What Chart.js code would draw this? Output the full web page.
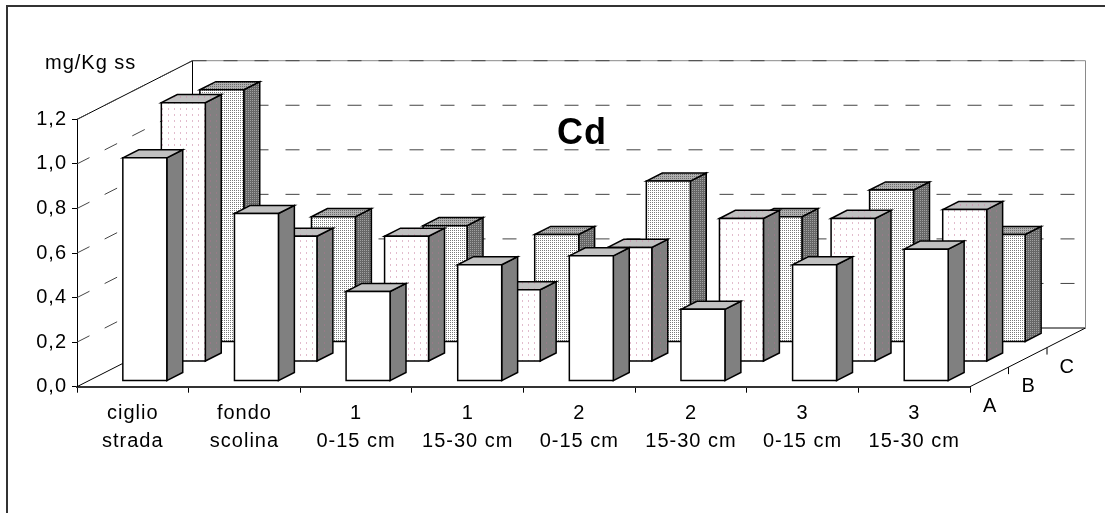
<!DOCTYPE html>
<html>
<head>
<meta charset="utf-8">
<script src="https://cdn.jsdelivr.net/npm/chart.js@4/dist/chart.umd.min.js"></script>
<style>
  html, body { margin: 0; padding: 0; background: #fff; }
  #wrap { width: 1105px; height: 513px; position: relative; }
</style>
</head>
<body>
<div id="wrap"><canvas id="cdChart"></canvas></div>
<script>
// --- Data ---
const CATEGORIES = [
  ['ciglio', 'strada'],
  ['fondo', 'scolina'],
  ['1', '0-15 cm'],
  ['1', '15-30 cm'],
  ['2', '0-15 cm'],
  ['2', '15-30 cm'],
  ['3', '0-15 cm'],
  ['3', '15-30 cm'],
];
const ROWS = ['A', 'B', 'C'];
const VALUES_A = [1.00, 0.75, 0.40, 0.52, 0.56, 0.32, 0.52, 0.59];
const VALUES_B = [1.16, 0.56, 0.56, 0.32, 0.51, 0.64, 0.64, 0.68];
const VALUES_C = [1.13, 0.56, 0.52, 0.48, 0.72, 0.56, 0.68, 0.48];
const Y_MIN = 0;
const Y_MAX = 1.2;
const Y_STEP = 0.2;
const TITLE = 'Cd';
const UNIT = 'mg/Kg ss';

// --- 3D look ---
const FONT = '"Liberation Sans", Arial, sans-serif';
const DEPTH_X = 115.5;   // full floor depth, pixels
const DEPTH_Y = -58.7;
const ROW_FRONT = 0.104; // where a bar starts inside its row (fraction of full depth)
const BAR_DEPTH = 0.138;
const BAR_WIDTH = 0.394; // of a category

function makePattern(bg, dot, size, dots) {
  const c = document.createElement('canvas');
  c.width = size[0];
  c.height = size[1];
  const g = c.getContext('2d');
  g.fillStyle = bg;
  g.fillRect(0, 0, c.width, c.height);
  g.fillStyle = dot;
  dots.forEach(([x, y, w, h]) => g.fillRect(x, y, w, h));
  return c;
}

const tiles = {
  bFront: makePattern('#ffffff', '#e2bccd', [6, 6], [[0, 0, 1, 2]]),
  bSide: makePattern('#808080', '#987a88', [6, 6], [[0, 0, 1, 2]]),
  bTop: makePattern('#c0c0c0', '#c8a0b4', [6, 6], [[0, 0, 1, 2]]),
  cFront: makePattern('#ffffff', '#7a7a7a', [2, 2], [[0, 0, 1, 1]]),
  cSide: makePattern('#666666', '#a0a0a0', [2, 2], [[0, 0, 1, 1]]),
  cTop: makePattern('#b0b0b0', '#6a6a6a', [2, 2], [[0, 0, 1, 1]]),
};

function rowStyles(ctx) {
  const p = (t) => ctx.createPattern(t, 'repeat');
  return [
    { front: '#ffffff', side: '#808080', top: '#c0c0c0' },
    { front: p(tiles.bFront), side: p(tiles.bSide), top: p(tiles.bTop) },
    { front: p(tiles.cFront), side: p(tiles.cSide), top: p(tiles.cTop) },
  ];
}

function fmt(v) {
  return (Math.round(v * 10) / 10).toFixed(1).replace('.', ',');
}

function poly(ctx, pts, fill) {
  ctx.beginPath();
  ctx.moveTo(pts[0][0], pts[0][1]);
  for (let i = 1; i < pts.length; i++) ctx.lineTo(pts[i][0], pts[i][1]);
  ctx.closePath();
  ctx.fillStyle = fill;
  ctx.fill();
  ctx.stroke();
}

function line(ctx, x1, y1, x2, y2) {
  ctx.beginPath();
  ctx.moveTo(x1, y1);
  ctx.lineTo(x2, y2);
  ctx.stroke();
}

const depthPlugin = {
  id: 'depth3d',
  beforeDraw(chart) {
    const ctx = chart.ctx;
    ctx.letterSpacing = '1px';
    ctx.save();
    ctx.strokeStyle = '#333';
    ctx.lineWidth = 2;
    ctx.beginPath();
    ctx.moveTo(7, chart.height);
    ctx.lineTo(7, 6);
    ctx.lineTo(chart.width, 6);
    ctx.stroke();
    ctx.restore();
  },
  beforeDatasetsDraw(chart) {
    const ctx = chart.ctx;
    const xs = chart.scales.x;
    const ys = chart.scales.y;
    const ca = chart.chartArea;
    const y0 = ys.getPixelForValue(0);
    const yTop = ys.getPixelForValue(Y_MAX);
    const bx = ca.left + DEPTH_X;

    ctx.save();
    ctx.letterSpacing = '1px';

    // walls and floor
    ctx.lineWidth = 1;
    ctx.strokeStyle = '#000';
    line(ctx, ca.left, yTop, bx, yTop + DEPTH_Y);
    line(ctx, bx, yTop + DEPTH_Y, bx, y0 + DEPTH_Y);
    line(ctx, ca.left, y0, bx, y0 + DEPTH_Y);
    line(ctx, bx, y0 + DEPTH_Y, ca.right + DEPTH_X, y0 + DEPTH_Y);
    line(ctx, ca.right, y0, ca.right + DEPTH_X, y0 + DEPTH_Y);
    ctx.strokeStyle = '#8a8a8a';
    line(ctx, bx, yTop + DEPTH_Y, ca.right + DEPTH_X, yTop + DEPTH_Y);
    line(ctx, ca.right + DEPTH_X, yTop + DEPTH_Y, ca.right + DEPTH_X, y0 + DEPTH_Y);

    // dashed grid on both walls
    ctx.strokeStyle = '#444';
    ctx.setLineDash([14, 17]);
    ys.ticks.forEach((t) => {
      if (t.value <= 0) return;
      const yf = ys.getPixelForValue(t.value);
      line(ctx, ca.left, yf, bx, yf + DEPTH_Y);
      line(ctx, bx, yf + DEPTH_Y, ca.right + DEPTH_X, yf + DEPTH_Y);
    });
    ctx.setLineDash([]);

    // depth axis ticks
    ctx.strokeStyle = '#000';
    for (let k = 1; k < ROWS.length; k++) {
      const px = ca.right + DEPTH_X * k / ROWS.length;
      const py = y0 + DEPTH_Y * k / ROWS.length;
      line(ctx, px, py, px, py + 7);
    }

    // bars, back row first
    const styles = rowStyles(ctx);
    const cw = xs.getPixelForValue(1) - xs.getPixelForValue(0);
    const ddx = DEPTH_X * BAR_DEPTH;
    const ddy = DEPTH_Y * BAR_DEPTH;
    ctx.lineWidth = 1.5;
    ctx.lineJoin = 'miter';
    ctx.strokeStyle = '#000';
    for (let k = chart.data.datasets.length - 1; k >= 0; k--) {
      const ds = chart.data.datasets[k];
      const f = ROW_FRONT + k / ROWS.length;
      const ox = DEPTH_X * f;
      const oy = DEPTH_Y * f;
      const st = styles[k];
      ds.data.forEach((v, i) => {
        const cx = xs.getPixelForValue(i) + ox;
        const xl = cx - cw * BAR_WIDTH / 2;
        const xr = cx + cw * BAR_WIDTH / 2;
        const yb = ys.getPixelForValue(0) + oy;
        const yt = ys.getPixelForValue(v) + oy;
        poly(ctx, [[xr, yb], [xr + ddx, yb + ddy], [xr + ddx, yt + ddy], [xr, yt]], st.side);
        poly(ctx, [[xl, yt], [xl + ddx, yt + ddy], [xr + ddx, yt + ddy], [xr, yt]], st.top);
        poly(ctx, [[xl, yt], [xr, yt], [xr, yb], [xl, yb]], st.front);
      });
    }

    // texts
    ctx.fillStyle = '#000';
    ctx.textBaseline = 'middle';
    ctx.font = '20px ' + FONT;
    ctx.textAlign = 'left';
    ctx.fillText(UNIT, 45, 63);
    ctx.textAlign = 'center';
    ROWS.forEach((r, k) => {
      const px = ca.right + DEPTH_X * (k + 0.5) / ROWS.length;
      const py = y0 + DEPTH_Y * (k + 0.5) / ROWS.length;
      ctx.fillText(r, px + 1, py + 29.5);
    });
    ctx.font = 'bold 36px ' + FONT;
    ctx.fillText(TITLE, 582, 134);

    ctx.restore();
    return false;
  },
};

const datasets = [VALUES_A, VALUES_B, VALUES_C].map((data, k) => ({
  label: ROWS[k],
  data,
  backgroundColor: 'rgba(0,0,0,0)',
  borderWidth: 0,
}));

new Chart(document.getElementById('cdChart'), {
  type: 'bar',
  data: { labels: CATEGORIES, datasets },
  options: {
    responsive: true,
    maintainAspectRatio: false,
    animation: false,
    events: [],
    layout: { padding: { left: 7, right: 135, top: 119.4, bottom: 0 } },
    plugins: { legend: { display: false }, tooltip: { enabled: false } },
    scales: {
      x: {
        offset: true,
        grid: { offset: true, drawOnChartArea: false, drawTicks: true, tickLength: 6, color: '#000' },
        border: { display: true, color: '#333', width: 2 },
        ticks: {
          color: '#000',
          padding: 6,
          maxRotation: 0,
          autoSkip: false,
          font: { family: FONT, size: 20, lineHeight: 1.43 },
        },
        afterFit: (s) => { s.height = 513 - 386.7; s.paddingLeft = 0; s.paddingRight = 0; },
      },
      y: {
        min: Y_MIN,
        max: Y_MAX,
        grid: { drawOnChartArea: false, drawTicks: true, tickLength: 5, color: '#000' },
        border: { display: true, color: '#000', width: 1 },
        ticks: {
          stepSize: Y_STEP,
          color: '#000',
          padding: 5,
          font: { family: FONT, size: 20 },
          callback: (v) => fmt(v),
        },
        afterFit: (s) => { s.width = 70; s.paddingTop = 0; s.paddingBottom = 0; },
      },
    },
  },
  plugins: [depthPlugin],
});
</script>
</body>
</html>
